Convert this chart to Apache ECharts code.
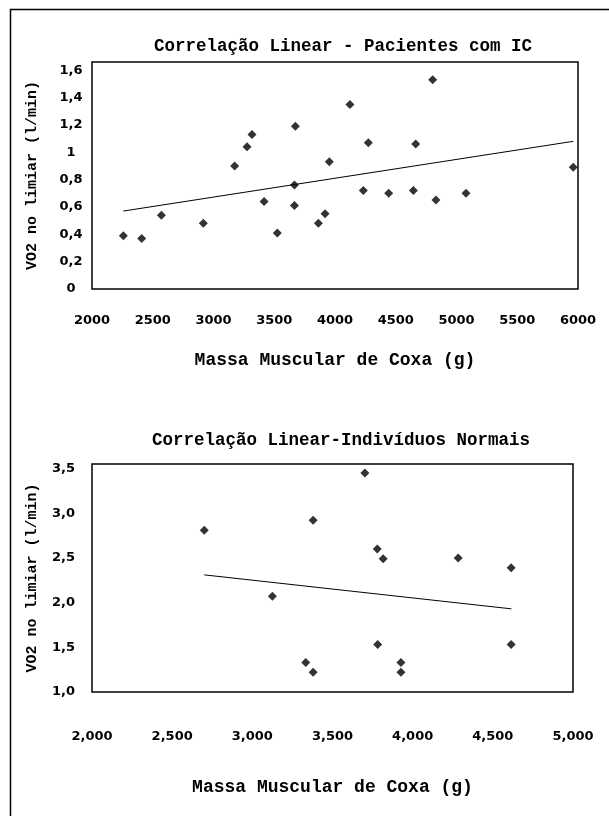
<!DOCTYPE html>
<html>
<head>
<meta charset="utf-8">
<script src="https://cdn.jsdelivr.net/npm/echarts@6/dist/echarts.min.js"></script>
<style>
  html, body { margin: 0; padding: 0; background: #fff; }
  #main { width: 609px; height: 816px; }
</style>
</head>
<body>
<div id="main"></div>
<script>
// Pacientes com IC: massa muscular de coxa (g) x VO2 no limiar (l/min)
const pacMassa = [2258, 2409, 2571, 2916, 3174, 3276, 3317, 3416, 3525, 3674, 3666, 3666, 3863, 3918, 3953,
                  4123, 4274, 4233, 4442, 4645, 4664, 4804, 4831, 5078, 5961];
const pacVO2 = [0.39, 0.37, 0.54, 0.48, 0.90, 1.04, 1.13, 0.64, 0.41, 1.19, 0.76, 0.61, 0.48, 0.55, 0.93,
                1.35, 1.07, 0.72, 0.70, 0.72, 1.06, 1.53, 0.65, 0.70, 0.89];
const pacTrendX = [2258, 5961];
const pacTrendY = [0.57, 1.08];

// Indivíduos normais
const norMassa = [2700, 3379, 3125, 3333, 3379, 3702, 3779, 3816, 4284, 4614, 3782, 4614, 3927, 3927];
const norVO2 = [2.81, 2.92, 2.07, 1.33, 1.22, 3.45, 2.60, 2.49, 2.50, 2.39, 1.53, 1.53, 1.33, 1.22];
const norTrendX = [2700, 4616];
const norTrendY = [2.31, 1.93];

const titulos = ['Correlação Linear - Pacientes com IC', 'Correlação Linear-Indivíduos Normais'];
const nomeX = 'Massa Muscular de Coxa (g)';
const nomeY = 'VO2 no limiar (l/min)';

const mono = '"Liberation Mono", "Courier New", monospace';
const sans = '"DejaVu Sans", Verdana, sans-serif';

const pares = (xs, ys) => xs.map((x, i) => [x, ys[i]]);
const virgula = v => String(Math.round(v * 10) / 10).replace('.', ',');

const labelX = { color: '#000', fontFamily: sans, fontWeight: 'bold', fontSize: 13 };
const labelY = { color: '#000', fontFamily: sans, fontWeight: 'bold', fontSize: 13, showMaxLabel: false };
const nomeXStyle = { color: '#000', fontFamily: mono, fontWeight: 'bold', fontSize: 18 };
const nomeYStyle = { color: '#000', fontFamily: mono, fontWeight: 'bold', fontSize: 15 };
const tituloStyle = { color: '#000', fontFamily: mono, fontWeight: 'bold', fontSize: 17.5 };

let myChart = echarts.init(document.getElementById('main'));
let option = {
    animation: false,
    backgroundColor: '#fff',
    graphic: [{
        type: 'rect',
        shape: { x: 10.5, y: 9.5, width: 800, height: 1000 },
        style: { fill: 'none', stroke: '#000', lineWidth: 1.5 }
    }],
    title: [
        { text: titulos[0], left: 338, top: 33, textAlign: 'center', textStyle: tituloStyle },
        { text: titulos[1], left: 336, top: 427, textAlign: 'center', textStyle: tituloStyle }
    ],
    grid: [
        { left: 92, top: 62, width: 486, height: 227, show: true, borderColor: '#000', borderWidth: 1.5 },
        { left: 92, top: 464, width: 481, height: 228, show: true, borderColor: '#000', borderWidth: 1.5 }
    ],
    xAxis: [
        { gridIndex: 0, type: 'value', min: 2000, max: 6000, interval: 500,
          axisLine: { show: false }, axisTick: { show: false }, splitLine: { show: false },
          axisLabel: Object.assign({ margin: 25, formatter: v => String(v) }, labelX),
          name: nomeX, nameLocation: 'middle', nameGap: 62, nameTextStyle: nomeXStyle },
        { gridIndex: 1, type: 'value', min: 2000, max: 5000, interval: 500,
          axisLine: { show: false }, axisTick: { show: false }, splitLine: { show: false },
          axisLabel: Object.assign({ margin: 38, formatter: v => v.toLocaleString('en-US') }, labelX),
          name: nomeX, nameLocation: 'middle', nameGap: 86, nameTextStyle: nomeXStyle }
    ],
    yAxis: [
        { gridIndex: 0, type: 'value', min: 0, max: 1.66, interval: 0.2,
          axisLine: { show: false }, axisTick: { show: false }, splitLine: { show: false },
          axisLabel: Object.assign({ margin: 21, align: 'center', formatter: virgula }, labelY),
          name: nomeY, nameLocation: 'middle', nameGap: 52, nameTextStyle: nomeYStyle },
        { gridIndex: 1, type: 'value', min: 1, max: 3.55, interval: 0.5,
          axisLine: { show: false }, axisTick: { show: false }, splitLine: { show: false },
          axisLabel: Object.assign({ margin: 17, formatter: v => v.toFixed(1).replace('.', ',') }, labelY),
          name: nomeY, nameLocation: 'middle', nameGap: 52, nameTextStyle: nomeYStyle }
    ],
    series: [
        { type: 'scatter', xAxisIndex: 0, yAxisIndex: 0, data: pares(pacMassa, pacVO2),
          symbol: 'diamond', symbolSize: 9, itemStyle: { color: '#000' } },
        { type: 'line', xAxisIndex: 0, yAxisIndex: 0, data: pares(pacTrendX, pacTrendY),
          symbol: 'none', lineStyle: { color: '#000', width: 1 } },
        { type: 'scatter', xAxisIndex: 1, yAxisIndex: 1, data: pares(norMassa, norVO2),
          symbol: 'diamond', symbolSize: 9, itemStyle: { color: '#000' } },
        { type: 'line', xAxisIndex: 1, yAxisIndex: 1, data: pares(norTrendX, norTrendY),
          symbol: 'none', lineStyle: { color: '#000', width: 1 } }
    ]
};
myChart.setOption(option);
</script>
</body>
</html>
